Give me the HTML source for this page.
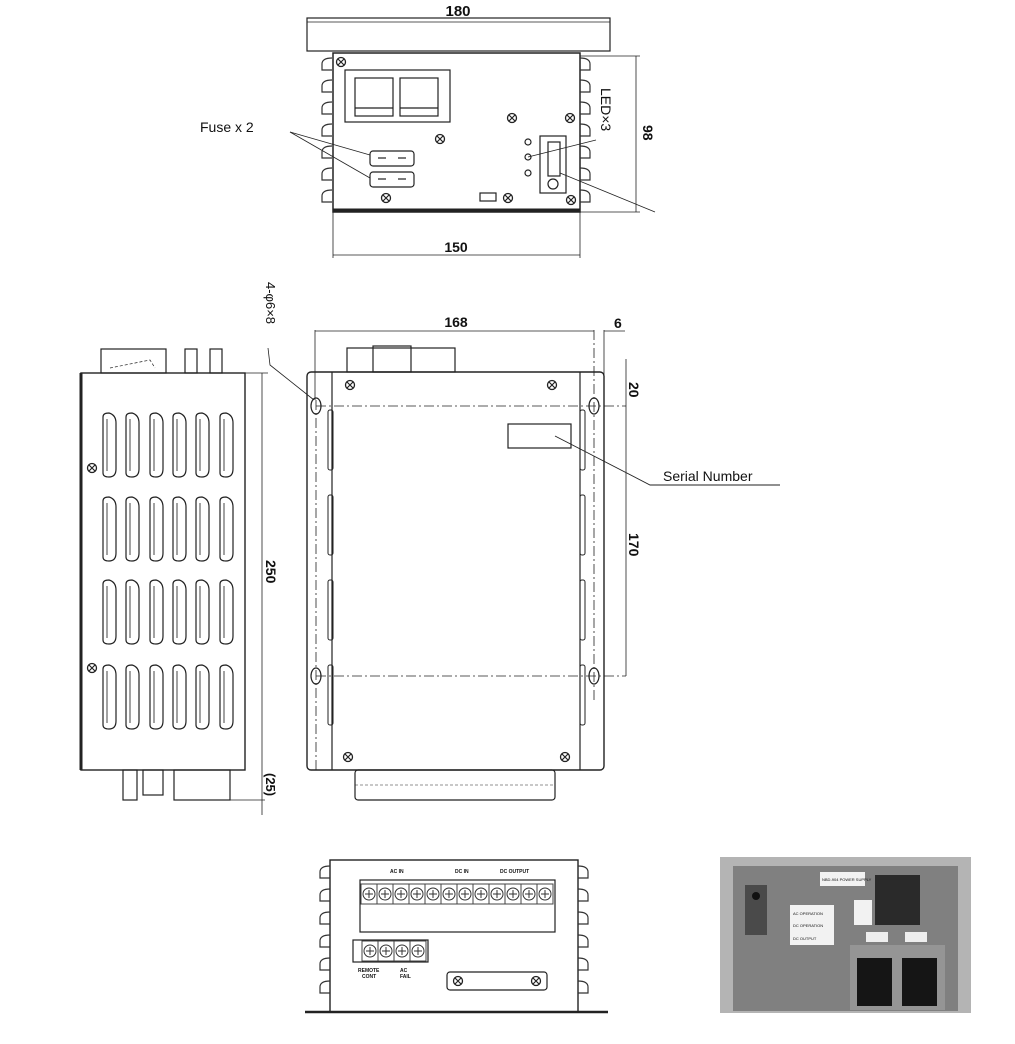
<!DOCTYPE html>
<html><head><meta charset="utf-8"><style>
html,body{margin:0;padding:0;background:#fff;}
svg{display:block;}
text{font-family:"Liberation Sans",Arial,sans-serif;fill:#111;}
</style></head><body>
<svg width="1015" height="1044" viewBox="0 0 1015 1044" xmlns="http://www.w3.org/2000/svg">
<defs>
<g id="vent"><path d="M0 4 Q0 0 6 0 Q13 2 13 10 L13 56 Q13 64 6 64 Q0 64 0 60 Z" fill="#fff" stroke="#222" stroke-width="1.2"/><line x1="4" y1="6" x2="4" y2="58" stroke="#444"/></g>
<g id="scr"><circle r="4.5" fill="#fff" stroke="#222" stroke-width="1.3"/><path d="M-3 -3 L3 3 M3 -3 L-3 3" stroke="#222" stroke-width="1.2"/></g>
<g id="fin"><path d="M10 0 Q0 0 0 6 L0 12 L10 12" fill="none" stroke="#333" stroke-width="1.2"/></g>
<g id="fin2"><path d="M0 0 Q10 0 10 6 L10 12 L0 12" fill="none" stroke="#333" stroke-width="1.2"/></g>
<g id="term"><rect x="0" y="0" width="16" height="20" fill="#fff" stroke="#444"/><circle cx="8" cy="10" r="6" fill="#fff" stroke="#333"/><path d="M4 10 H12 M8 6 V14" stroke="#333"/></g>
</defs>
<g fill="none" stroke="#222" stroke-width="1.2">
<rect x="307" y="18" width="303" height="33"/>
<line x1="307" y1="22" x2="610" y2="22" stroke-width="0.8"/>
<rect x="333" y="53" width="247" height="159" stroke-width="1.5"/>
<line x1="333" y1="210" x2="580" y2="210" stroke-width="3"/>
<rect x="345" y="70" width="105" height="52"/>
<rect x="355" y="78" width="38" height="38"/><rect x="400" y="78" width="38" height="38"/>
<line x1="355" y1="108" x2="393" y2="108"/><line x1="400" y1="108" x2="438" y2="108"/>
<rect x="370" y="151" width="44" height="15" rx="3"/><rect x="370" y="172" width="44" height="15" rx="3"/>
<line x1="378" y1="158" x2="386" y2="158"/><line x1="398" y1="158" x2="406" y2="158"/>
<line x1="378" y1="179" x2="386" y2="179"/><line x1="398" y1="179" x2="406" y2="179"/>
<rect x="540" y="136" width="26" height="57"/>
<rect x="548" y="142" width="12" height="34"/>
<circle cx="553" cy="184" r="5"/>
<circle cx="528" cy="142" r="3"/><circle cx="528" cy="157" r="3"/><circle cx="528" cy="173" r="3"/>
<rect x="480" y="193" width="16" height="8"/>
<line x1="333" y1="212" x2="333" y2="258" stroke-width="0.8"/>
<line x1="580" y1="212" x2="580" y2="258" stroke-width="0.8"/>
<line x1="333" y1="255" x2="580" y2="255" stroke-width="0.8"/>
<line x1="580" y1="56" x2="640" y2="56" stroke-width="0.8"/>
<line x1="580" y1="212" x2="640" y2="212" stroke-width="0.8"/>
<line x1="636" y1="56" x2="636" y2="212" stroke-width="0.8"/>
<line x1="290" y1="132" x2="370" y2="155" stroke-width="0.8"/>
<line x1="290" y1="132" x2="370" y2="178" stroke-width="0.8"/>
<line x1="596" y1="140" x2="528" y2="157" stroke-width="0.8"/>
<line x1="655" y1="212" x2="560" y2="173" stroke-width="0.8"/>

<rect x="81" y="373" width="164" height="397" stroke-width="1.4"/>
<line x1="81" y1="373" x2="81" y2="770" stroke-width="3"/>
<rect x="101" y="349" width="65" height="24"/>
<path d="M110 368 L150 360 L155 368" stroke-width="0.7" stroke-dasharray="3 2"/>
<rect x="185" y="349" width="12" height="24"/><rect x="210" y="349" width="12" height="24"/>
<rect x="123" y="770" width="14" height="30"/><rect x="143" y="770" width="20" height="25"/>
<rect x="174" y="770" width="56" height="30"/>
<line x1="230" y1="800" x2="265" y2="800" stroke-width="0.8"/>
<line x1="245" y1="373" x2="268" y2="373" stroke-width="0.8"/>
<line x1="262" y1="373" x2="262" y2="815" stroke-width="0.8"/>

<rect x="307" y="372" width="297" height="398" rx="4" stroke-width="1.4"/>
<line x1="332" y1="372" x2="332" y2="770"/><line x1="580" y1="372" x2="580" y2="770"/>
<rect x="347" y="348" width="108" height="24"/><rect x="373" y="346" width="38" height="26"/>
<rect x="508" y="424" width="63" height="24"/>
<ellipse cx="316" cy="406" rx="5" ry="8"/><ellipse cx="594" cy="406" rx="5" ry="8"/>
<ellipse cx="316" cy="676" rx="5" ry="8"/><ellipse cx="594" cy="676" rx="5" ry="8"/>
<line x1="316" y1="406" x2="626" y2="406" stroke-width="0.8" stroke-dasharray="10 3 2 3"/>
<line x1="316" y1="676" x2="626" y2="676" stroke-width="0.8" stroke-dasharray="10 3 2 3"/>
<line x1="316" y1="400" x2="316" y2="770" stroke-width="0.8" stroke-dasharray="10 3 2 3"/>
<line x1="594" y1="330" x2="594" y2="700" stroke-width="0.8" stroke-dasharray="10 3 2 3"/>
<line x1="604" y1="330" x2="604" y2="760" stroke-width="0.8"/>
<line x1="315" y1="330" x2="315" y2="400" stroke-width="0.8"/>
<line x1="315" y1="331" x2="594" y2="331" stroke-width="0.8"/>
<line x1="604" y1="331" x2="625" y2="331" stroke-width="0.8"/>
<line x1="626" y1="359" x2="626" y2="676" stroke-width="0.8"/>
<path d="M268 348 L270 365 L314 400" stroke-width="0.8"/>
<path d="M555 436 L650 485 L780 485" stroke-width="0.9"/>
<g stroke-width="1"><rect x="328" y="410" width="5" height="60" rx="2"/><rect x="328" y="495" width="5" height="60" rx="2"/><rect x="328" y="580" width="5" height="60" rx="2"/><rect x="328" y="665" width="5" height="60" rx="2"/>
<rect x="580" y="410" width="5" height="60" rx="2"/><rect x="580" y="495" width="5" height="60" rx="2"/><rect x="580" y="580" width="5" height="60" rx="2"/><rect x="580" y="665" width="5" height="60" rx="2"/></g>
<rect x="355" y="770" width="200" height="30" rx="3"/>
<line x1="355" y1="785" x2="555" y2="785" stroke-width="0.6" stroke-dasharray="3 2"/>

<rect x="330" y="860" width="248" height="152" stroke-width="1.4"/>
<line x1="305" y1="1012" x2="608" y2="1012" stroke-width="2.5"/>
<rect x="360" y="880" width="195" height="52"/>
<rect x="353" y="940" width="75" height="22"/>
<rect x="447" y="972" width="100" height="18" rx="3"/>
</g>
<g>
<use href="#scr" x="341" y="62"/><use href="#scr" x="512" y="118"/><use href="#scr" x="570" y="118"/>
<use href="#scr" x="440" y="139"/><use href="#scr" x="386" y="198"/><use href="#scr" x="508" y="198"/><use href="#scr" x="571" y="200"/>
<use href="#scr" x="92" y="468"/><use href="#scr" x="92" y="668"/>
<use href="#scr" x="350" y="385"/><use href="#scr" x="552" y="385"/><use href="#scr" x="348" y="757"/><use href="#scr" x="565" y="757"/>
<use href="#scr" x="458" y="981"/><use href="#scr" x="536" y="981"/>
</g>
<g>
<use href="#fin" x="322" y="58"/><use href="#fin" x="322" y="80"/><use href="#fin" x="322" y="102"/><use href="#fin" x="322" y="124"/><use href="#fin" x="322" y="146"/><use href="#fin" x="322" y="168"/><use href="#fin" x="322" y="190"/>
<use href="#fin2" x="580" y="58"/><use href="#fin2" x="580" y="80"/><use href="#fin2" x="580" y="102"/><use href="#fin2" x="580" y="124"/><use href="#fin2" x="580" y="146"/><use href="#fin2" x="580" y="168"/><use href="#fin2" x="580" y="190"/>
<use href="#fin" x="320" y="866"/><use href="#fin" x="320" y="889"/><use href="#fin" x="320" y="912"/><use href="#fin" x="320" y="935"/><use href="#fin" x="320" y="958"/><use href="#fin" x="320" y="981"/>
<use href="#fin2" x="578" y="866"/><use href="#fin2" x="578" y="889"/><use href="#fin2" x="578" y="912"/><use href="#fin2" x="578" y="935"/><use href="#fin2" x="578" y="958"/><use href="#fin2" x="578" y="981"/>
</g>
<g>
<use href="#vent" x="103" y="413"/><use href="#vent" x="126" y="413"/><use href="#vent" x="150" y="413"/><use href="#vent" x="173" y="413"/><use href="#vent" x="196" y="413"/><use href="#vent" x="220" y="413"/>
<use href="#vent" x="103" y="497"/><use href="#vent" x="126" y="497"/><use href="#vent" x="150" y="497"/><use href="#vent" x="173" y="497"/><use href="#vent" x="196" y="497"/><use href="#vent" x="220" y="497"/>
<use href="#vent" x="103" y="580"/><use href="#vent" x="126" y="580"/><use href="#vent" x="150" y="580"/><use href="#vent" x="173" y="580"/><use href="#vent" x="196" y="580"/><use href="#vent" x="220" y="580"/>
<use href="#vent" x="103" y="665"/><use href="#vent" x="126" y="665"/><use href="#vent" x="150" y="665"/><use href="#vent" x="173" y="665"/><use href="#vent" x="196" y="665"/><use href="#vent" x="220" y="665"/>
</g>
<g>
<use href="#term" x="361" y="884"/><use href="#term" x="377" y="884"/><use href="#term" x="393" y="884"/><use href="#term" x="409" y="884"/><use href="#term" x="425" y="884"/><use href="#term" x="441" y="884"/><use href="#term" x="457" y="884"/><use href="#term" x="473" y="884"/><use href="#term" x="489" y="884"/><use href="#term" x="505" y="884"/><use href="#term" x="521" y="884"/><use href="#term" x="537" y="884"/>
<use href="#term" x="362" y="941"/><use href="#term" x="378" y="941"/><use href="#term" x="394" y="941"/><use href="#term" x="410" y="941"/>
</g>
<rect x="720" y="857" width="251" height="156" fill="#b4b4b4"/>
<rect x="733" y="866" width="225" height="145" fill="#808080"/>
<rect x="745" y="885" width="22" height="50" fill="#4a4a4a"/>
<circle cx="756" cy="896" r="4" fill="#111"/>
<rect x="790" y="905" width="44" height="40" fill="#f2f2f2"/>
<rect x="820" y="872" width="45" height="14" fill="#f2f2f2"/>
<rect x="854" y="900" width="18" height="25" fill="#f2f2f2"/>
<rect x="875" y="875" width="45" height="50" fill="#2a2a2a"/>
<rect x="866" y="932" width="22" height="10" fill="#eee"/><rect x="905" y="932" width="22" height="10" fill="#eee"/>
<rect x="850" y="945" width="95" height="65" fill="#959595"/>
<rect x="857" y="958" width="35" height="48" fill="#151515"/><rect x="902" y="958" width="35" height="48" fill="#151515"/>
<g font-size="4" style="fill:#222"><text x="793" y="915">AC OPERATION</text><text x="793" y="927">DC OPERATION</text><text x="793" y="940">DC OUTPUT</text><text x="822" y="881">NBD-904 POWER SUPPLY</text></g>
<text x="458" y="16" font-size="15" font-weight="bold" text-anchor="middle">180</text>
<text x="456" y="252" font-size="14" font-weight="bold" text-anchor="middle">150</text>
<text x="456" y="327" font-size="14" font-weight="bold" text-anchor="middle">168</text>
<text x="614" y="328" font-size="14" font-weight="bold">6</text>
<text x="200" y="132" font-size="14">Fuse x 2</text>
<text x="663" y="481" font-size="14">Serial Number</text>
<text font-size="14" font-weight="bold" transform="translate(643,125) rotate(90)">98</text>
<text font-size="14" transform="translate(601,88) rotate(90)">LED×3</text>
<text font-size="14" font-weight="bold" transform="translate(629,382) rotate(90)">20</text>
<text font-size="14" font-weight="bold" transform="translate(629,533) rotate(90)">170</text>
<text font-size="14" font-weight="bold" transform="translate(266,560) rotate(90)">250</text>
<text font-size="13" font-weight="bold" transform="translate(266,773) rotate(90)">(25)</text>
<text font-size="13" transform="translate(266,282) rotate(90)">4-φ6×8</text>
<g font-size="5" font-weight="bold"><text x="390" y="873">AC IN</text><text x="455" y="873">DC IN</text><text x="500" y="873">DC OUTPUT</text><text x="358" y="972">REMOTE</text><text x="400" y="972">AC</text><text x="362" y="978">CONT</text><text x="400" y="978">FAIL</text></g>
</svg>
</body></html>
